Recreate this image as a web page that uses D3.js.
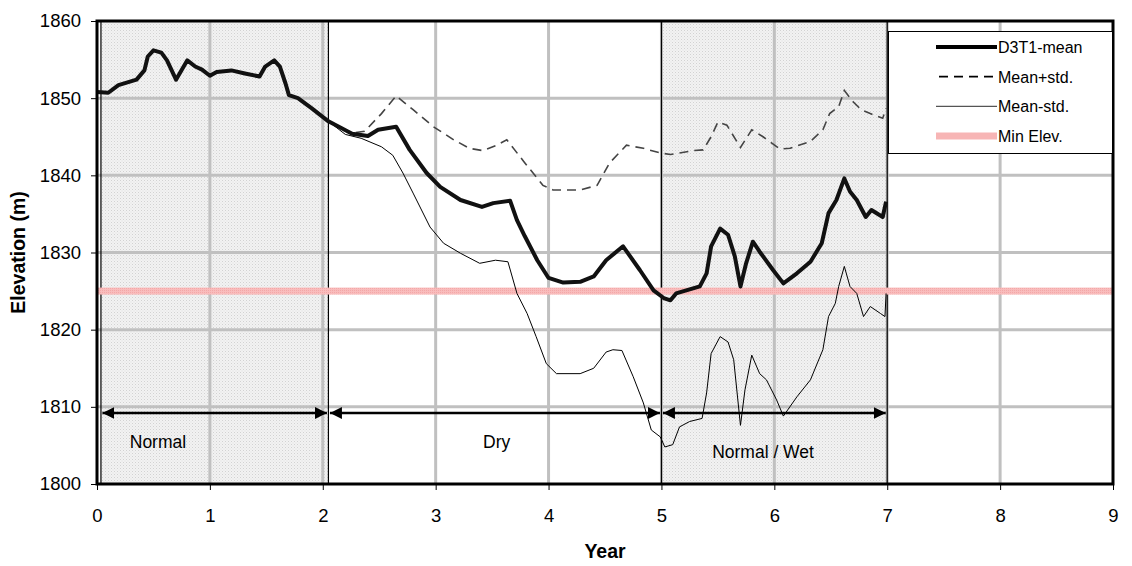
<!DOCTYPE html>
<html lang="en">
<head>
<meta charset="utf-8">
<title>D3T1 elevation</title>
<script src="https://d3js.org/d3.v7.min.js"></script>
<style>
  body { margin: 0; background: #fff; font-family: "Liberation Sans", Arial, sans-serif; }
  .axis-title { font-size: 19.5px; font-weight: bold; }
  .note { font-size: 17.5px; }
  .legend text { font-size: 16px; }
</style>
</head>
<body>
<svg id="chart" width="1132" height="566"></svg>
<script>
// ---------------- data ----------------
var xTicks = [0, 1, 2, 3, 4, 5, 6, 7, 8, 9];
var yTicks = [1800, 1810, 1820, 1830, 1840, 1850, 1860];
var minElev = 1825;

// mean elevation, [year, m]
var meanSeries = [
  [0, 1850.8], [0.10, 1850.7], [0.19, 1851.7], [0.35, 1852.4], [0.42, 1853.6], [0.45, 1855.4],
  [0.50, 1856.2], [0.57, 1855.9], [0.62, 1854.9], [0.70, 1852.4], [0.80, 1854.9], [0.87, 1854.1],
  [0.93, 1853.7], [1.00, 1852.9], [1.06, 1853.4], [1.19, 1853.6], [1.31, 1853.2], [1.44, 1852.8],
  [1.49, 1854.1], [1.57, 1854.9], [1.62, 1854.1], [1.67, 1851.9], [1.70, 1850.4], [1.78, 1850.0],
  [1.90, 1848.7], [2.05, 1847.0], [2.26, 1845.4], [2.40, 1845.1], [2.49, 1845.9], [2.65, 1846.3],
  [2.77, 1843.3], [2.92, 1840.3], [3.04, 1838.5], [3.22, 1836.8], [3.41, 1835.9], [3.51, 1836.4],
  [3.66, 1836.7], [3.72, 1834.2], [3.79, 1832.1], [3.90, 1829.0], [4.00, 1826.7], [4.13, 1826.1],
  [4.28, 1826.2], [4.40, 1826.9], [4.51, 1829.0], [4.66, 1830.8], [4.81, 1827.7], [4.93, 1825.1],
  [5.02, 1824.1], [5.08, 1823.8], [5.13, 1824.7], [5.34, 1825.6], [5.40, 1827.3], [5.44, 1830.8],
  [5.52, 1833.1], [5.59, 1832.3], [5.65, 1829.5], [5.70, 1825.6], [5.75, 1828.6], [5.81, 1831.4],
  [5.87, 1830.1], [5.99, 1827.7], [6.08, 1826.0], [6.20, 1827.3], [6.32, 1828.8], [6.42, 1831.2],
  [6.48, 1835.1], [6.55, 1836.8], [6.62, 1839.6], [6.67, 1837.9], [6.73, 1836.8], [6.81, 1834.6],
  [6.86, 1835.5], [6.96, 1834.6], [6.99, 1836.6]
];

var upperSeries = [
  [2.05, 1847.0], [2.26, 1845.5], [2.37, 1845.7], [2.52, 1848.0], [2.65, 1850.3], [2.80, 1848.5],
  [2.98, 1846.3], [3.16, 1844.6], [3.30, 1843.5], [3.42, 1843.2], [3.54, 1843.9], [3.63, 1844.6],
  [3.78, 1841.8], [3.95, 1838.7], [4.04, 1838.1], [4.28, 1838.1], [4.43, 1838.7], [4.54, 1841.6],
  [4.69, 1843.9], [4.84, 1843.5], [4.99, 1842.9], [5.08, 1842.7], [5.28, 1843.2], [5.37, 1843.3],
  [5.44, 1845.0], [5.50, 1846.9], [5.58, 1846.5], [5.70, 1843.6], [5.80, 1845.9], [5.90, 1845.0],
  [6.05, 1843.4], [6.14, 1843.5], [6.32, 1844.4], [6.43, 1845.9], [6.49, 1848.0], [6.57, 1848.9],
  [6.62, 1851.0], [6.70, 1849.5], [6.77, 1848.5], [6.85, 1848.0], [6.96, 1847.4], [6.99, 1848.7]
];

var lowerSeries = [
  [2.05, 1847.0], [2.20, 1845.3], [2.34, 1844.8], [2.52, 1843.7], [2.62, 1842.6], [2.71, 1840.3],
  [2.80, 1837.7], [2.95, 1833.3], [3.07, 1831.2], [3.22, 1829.9], [3.39, 1828.6], [3.53, 1829.0],
  [3.64, 1828.8], [3.72, 1824.7], [3.81, 1822.1], [3.89, 1819.1], [3.98, 1815.6], [4.07, 1814.3],
  [4.28, 1814.3], [4.40, 1815.0], [4.51, 1817.1], [4.57, 1817.4], [4.65, 1817.3], [4.75, 1813.9],
  [4.84, 1810.5], [4.91, 1807.0], [4.99, 1806.1], [5.03, 1804.8], [5.10, 1805.1], [5.16, 1807.4],
  [5.25, 1808.1], [5.36, 1808.5], [5.40, 1811.8], [5.44, 1816.9], [5.52, 1819.1], [5.59, 1818.4],
  [5.64, 1816.1], [5.70, 1807.6], [5.74, 1812.2], [5.80, 1816.7], [5.87, 1814.3], [5.93, 1813.5],
  [6.02, 1810.9], [6.08, 1808.8], [6.20, 1811.3], [6.32, 1813.5], [6.43, 1817.4], [6.48, 1821.7],
  [6.54, 1823.4], [6.57, 1825.6], [6.62, 1828.2], [6.67, 1825.6], [6.73, 1824.7], [6.79, 1821.7],
  [6.85, 1823.0], [6.94, 1822.1], [6.98, 1821.7], [6.99, 1824.7]
];

// climate periods
var periods = [
  { name: "Normal", start: 0.035, end: 2.05, shaded: true, labelX: 0.54, labelY: 1805.4 },
  { name: "Dry", start: 2.05, end: 5.0, shaded: false, labelX: 3.54, labelY: 1805.4 },
  { name: "Normal / Wet", start: 5.0, end: 7.0, shaded: true, labelX: 5.9, labelY: 1804.2 }
];
var arrowElev = 1809.2;

var legendItems = ["D3T1-mean", "Mean+std.", "Mean-std.", "Min Elev."];

// ---------------- layout ----------------
var svg = d3.select("#chart");
var plotL = 97, plotR = 1113, plotT = 21, plotB = 484;

var x = d3.scaleLinear().domain([0, 9]).range([plotL, plotR]);
var y = d3.scaleLinear().domain([1800, 1860]).range([plotB, plotT]);

var defs = svg.append("defs");
var pat = defs.append("pattern").attr("id", "dots")
  .attr("width", 3).attr("height", 3).attr("patternUnits", "userSpaceOnUse");
pat.append("rect").attr("width", 3).attr("height", 3).attr("fill", "#f2f2f2");
pat.append("rect").attr("width", 1).attr("height", 1).attr("fill", "#d2d2d2");
pat.append("rect").attr("x", 1.5).attr("y", 1.5).attr("width", 1).attr("height", 1).attr("fill", "#dedede");

var pink = defs.append("pattern").attr("id", "pinkdots")
  .attr("width", 2).attr("height", 2).attr("patternUnits", "userSpaceOnUse");
pink.append("rect").attr("width", 2).attr("height", 2).attr("fill", "#f9bcbc");
pink.append("rect").attr("width", 1).attr("height", 1).attr("fill", "#f3a8a8");

// shaded periods
svg.selectAll("rect.shade")
  .data(periods.filter(function (p) { return p.shaded; }))
  .enter().append("rect")
  .attr("class", "shade")
  .attr("x", function (d) { return x(d.start); })
  .attr("y", plotT)
  .attr("width", function (d) { return x(d.end) - x(d.start); })
  .attr("height", plotB - plotT)
  .attr("fill", "url(#dots)");

// grid
svg.append("g").selectAll("line")
  .data(xTicks.slice(1, -1)).enter().append("line")
  .attr("x1", function (d) { return x(d); }).attr("x2", function (d) { return x(d); })
  .attr("y1", plotT).attr("y2", plotB)
  .attr("stroke", "#c0c0c0").attr("stroke-width", 3);
svg.append("g").selectAll("line")
  .data(yTicks.slice(1, -1)).enter().append("line")
  .attr("x1", plotL).attr("x2", plotR)
  .attr("y1", function (d) { return y(d); }).attr("y2", function (d) { return y(d); })
  .attr("stroke", "#c0c0c0").attr("stroke-width", 3);

// period boundaries
var bounds = [0.035, 2.05, 5.0, 7.0];
svg.append("g").selectAll("line")
  .data(bounds).enter().append("line")
  .attr("x1", function (d) { return x(d); }).attr("x2", function (d) { return x(d); })
  .attr("y1", plotT).attr("y2", plotB)
  .attr("stroke", "#000").attr("stroke-width", 1.2);

// min elevation line
svg.append("rect")
  .attr("x", plotL).attr("y", y(minElev) - 3.5)
  .attr("width", plotR - plotL).attr("height", 7)
  .attr("fill", "url(#pinkdots)");

// series
var line = d3.line().x(function (d) { return x(d[0]); }).y(function (d) { return y(d[1]); });

svg.append("path").datum(lowerSeries)
  .attr("d", line).attr("fill", "none")
  .attr("stroke", "#000").attr("stroke-width", 1);
svg.append("path").datum(upperSeries)
  .attr("d", line).attr("fill", "none")
  .attr("stroke", "#444").attr("stroke-width", 1.6).attr("stroke-dasharray", "9,6");
svg.append("path").datum(meanSeries)
  .attr("d", line).attr("fill", "none")
  .attr("stroke", "#111").attr("stroke-width", 4).attr("stroke-linejoin", "round");

// period arrows
defs.append("marker").attr("id", "arrowEnd")
  .attr("viewBox", "0 0 10 10").attr("refX", 10).attr("refY", 5)
  .attr("markerWidth", 5).attr("markerHeight", 5).attr("orient", "auto-start-reverse")
  .attr("markerUnits", "strokeWidth")
  .append("path").attr("d", "M0,0 L10,5 L0,10 Z").attr("fill", "#000");

svg.append("g").selectAll("line")
  .data(periods).enter().append("line")
  .attr("x1", function (d) { return x(d.start) + 1.5; })
  .attr("x2", function (d) { return x(d.end) - 1.5; })
  .attr("y1", y(arrowElev)).attr("y2", y(arrowElev))
  .attr("stroke", "#000").attr("stroke-width", 2.4)
  .attr("marker-start", "url(#arrowEnd)").attr("marker-end", "url(#arrowEnd)");

svg.append("g").selectAll("text")
  .data(periods).enter().append("text")
  .attr("class", "note")
  .attr("x", function (d) { return x(d.labelX); })
  .attr("y", function (d) { return y(d.labelY) + 6; })
  .attr("text-anchor", "middle")
  .text(function (d) { return d.name; });

// axes
var yAxis = svg.append("g").attr("transform", "translate(" + plotL + ",0)")
  .call(d3.axisLeft(y).tickValues(yTicks).tickSize(6).tickPadding(10).tickFormat(d3.format("d")));
var xAxis = svg.append("g").attr("transform", "translate(0," + plotB + ")")
  .call(d3.axisBottom(x).tickValues(xTicks).tickSize(6).tickPadding(19).tickFormat(d3.format("d")));
[yAxis, xAxis].forEach(function (a) {
  a.select(".domain").remove();
  a.selectAll(".tick line").attr("stroke", "#000").attr("stroke-width", 1);
  a.selectAll(".tick text")
    .style("font-family", "'Liberation Sans', Arial, sans-serif")
    .style("font-size", "18.5px").attr("fill", "#000");
});

// plot frame
svg.append("rect")
  .attr("x", plotL).attr("y", plotT)
  .attr("width", plotR - plotL).attr("height", plotB - plotT)
  .attr("fill", "none").attr("stroke", "#000").attr("stroke-width", 3);

svg.append("text").attr("class", "axis-title")
  .attr("x", (plotL + plotR) / 2).attr("y", 558)
  .attr("text-anchor", "middle").text("Year");
svg.append("text").attr("class", "axis-title")
  .attr("transform", "translate(25," + ((plotT + plotB) / 2) + ") rotate(-90)")
  .attr("text-anchor", "middle").text("Elevation (m)");

// legend
var lg = svg.append("g").attr("class", "legend");
lg.append("rect")
  .attr("x", 888.5).attr("y", 31.5).attr("width", 224).attr("height", 122)
  .attr("fill", "#fff").attr("stroke", "#000").attr("stroke-width", 1);
var rowY = d3.scalePoint().domain(legendItems).range([47, 136]);
var styles = {
  "D3T1-mean": { stroke: "#000", width: 4, dash: null },
  "Mean+std.": { stroke: "#000", width: 1.6, dash: "9,6" },
  "Mean-std.": { stroke: "#555", width: 1.2, dash: null },
  "Min Elev.": { stroke: "#f7b5b5", width: 7, dash: null }
};
legendItems.forEach(function (k) {
  var s = styles[k];
  lg.append("line")
    .attr("x1", k === "Mean+std." ? 939 : 936).attr("x2", 997)
    .attr("y1", rowY(k)).attr("y2", rowY(k))
    .attr("stroke", s.stroke).attr("stroke-width", s.width)
    .attr("stroke-dasharray", s.dash);
  lg.append("text").attr("x", 998).attr("y", rowY(k) + 6).text(k);
});
</script>
</body>
</html>
